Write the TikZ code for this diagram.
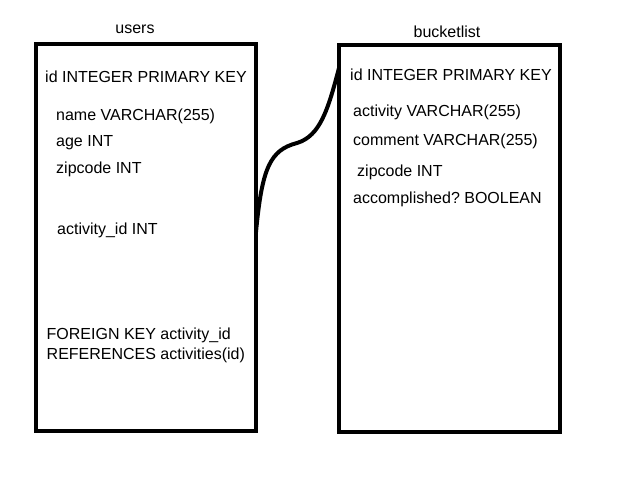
\documentclass[tikz,border=0pt]{standalone}
\usepackage{fontspec}
\setmainfont{Liberation Sans}
\frenchspacing
\begin{document}
\begin{tikzpicture}[x=1pt,y=-1pt,
  tablebox/.style={draw=black, line width=4pt, fill=none, inner sep=0pt, outer sep=0pt, rectangle, miter limit=10},
  lbl/.style={anchor=base west, inner sep=0pt, font=\fontsize{16}{19}\selectfont},
  title/.style={anchor=base, inner sep=0pt, font=\fontsize{16}{19}\selectfont},
  link/.style={draw=black, line width=4pt}]
\useasboundingbox[fill=white] (0,0) rectangle (640,480);
% boxes
\node[tablebox, minimum width=220pt, minimum height=387pt] (users) at (146,237.5) {};
\node[tablebox, minimum width=221pt, minimum height=387pt] (bucket) at (449.5,238.5) {};
% titles
\node[title] (tusers) at (135,33) {users};
\node[title] (tbucket) at (447,37) {bucketlist};
% users fields
\node[lbl] (u1) at (45,82) {id INTEGER PRIMARY KEY};
\node[lbl] (u2) at (56,120.5) {name VARCHAR(255)};
\node[lbl] (u3) at (56,146.5) {age INT};
\node[lbl] (u4) at (56,173) {zipcode INT};
\node[lbl] (u5) at (57,234) {activity\_id INT};
\node[lbl] (u6) at (46.5,339.5) {FOREIGN KEY activity\_id};
\node[lbl] (u7) at (46.5,359.5) {REFERENCES activities(id)};
% bucketlist fields
\node[lbl] (b1) at (350,80.5) {id INTEGER PRIMARY KEY};
\node[lbl] (b2) at (353,116) {activity VARCHAR(255)};
\node[lbl] (b3) at (353,145) {comment VARCHAR(255)};
\node[lbl] (b4) at (357,176.5) {zipcode INT};
\node[lbl] (b5) at (353,203) {accomplished?\ BOOLEAN};
% connector
\coordinate (fk) at (users.east |- 0,232);
\coordinate (pk) at (bucket.west |- 0,68);
\draw[link] (fk) .. controls (262,168) and (270,150) .. (297,143)
  .. controls (320,136) and (328,110) .. (pk);
\end{tikzpicture}
\end{document}
